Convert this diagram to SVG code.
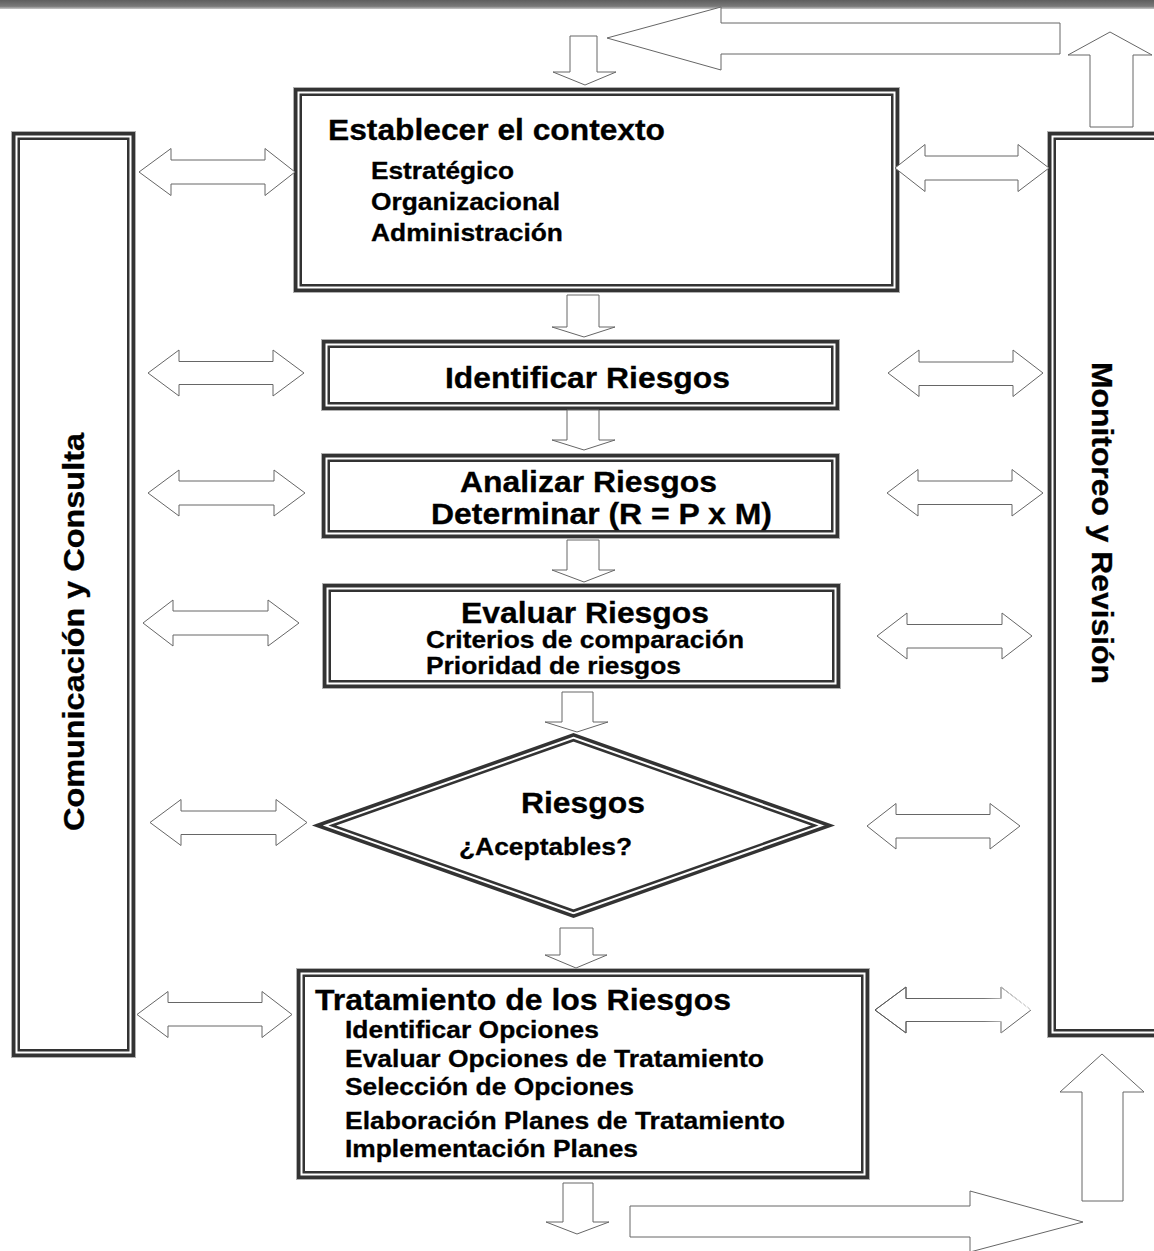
<svg xmlns="http://www.w3.org/2000/svg" width="1154" height="1251" viewBox="0 0 1154 1251">
  <defs>
    <linearGradient id="topBar" x1="0" y1="0" x2="0" y2="1">
      <stop offset="0" stop-color="#5e5e5e"/>
      <stop offset="0.7" stop-color="#7a7a7a"/>
      <stop offset="1" stop-color="#c8c8c8"/>
    </linearGradient>
    <!-- strokes that fade out toward one end -->
    <linearGradient id="fadeRight" x1="0" y1="0" x2="1" y2="0.3">
      <stop offset="0" stop-color="#555"/>
      <stop offset="0.8" stop-color="#777"/>
      <stop offset="1" stop-color="#eee"/>
    </linearGradient>
    <linearGradient id="fadeLeft" x1="0" y1="0" x2="1" y2="0">
      <stop offset="0" stop-color="#f2f2f2"/>
      <stop offset="0.25" stop-color="#888"/>
      <stop offset="0.85" stop-color="#666"/>
      <stop offset="1" stop-color="#aaa"/>
    </linearGradient>
    <linearGradient id="fadeBoth" x1="0" y1="0" x2="1" y2="0">
      <stop offset="0" stop-color="#f4f4f4"/>
      <stop offset="0.25" stop-color="#aaa"/>
      <stop offset="0.75" stop-color="#aaa"/>
      <stop offset="1" stop-color="#f4f4f4"/>
    </linearGradient>
    <linearGradient id="fadeGone" x1="0" y1="0" x2="1" y2="0">
      <stop offset="0" stop-color="#555"/>
      <stop offset="0.7" stop-color="#777"/>
      <stop offset="0.95" stop-color="#fff"/>
    </linearGradient>
  </defs>
  <style>
    text { font-family: "Liberation Sans", Arial, sans-serif; font-weight: bold; fill: #000; stroke: #000; stroke-width: 0.3; }
    .t29 { font-size: 30px; }
    .t24 { font-size: 24.5px; }
    .outer { fill: #fff; stroke: #333; stroke-width: 3.5; }
    .inner { fill: none; stroke: #333; stroke-width: 2.5; }
    .halo { fill: none; stroke: #b0b0b0; stroke-width: 1; }
    .arrow { fill: #fff; stroke: #666; stroke-width: 1; stroke-linejoin: miter; }
  </style>

  <rect width="1154" height="1251" fill="#fff"/>
  <rect x="0" y="0" width="1154" height="9" fill="url(#topBar)"/>

  <!-- side columns -->
  <g id="comunicacion">
    <rect class="halo" x="11.5" y="131.5" width="124" height="926"/>
    <rect class="outer" x="13.75" y="133.75" width="119.5" height="921.5"/>
    <rect class="inner" x="18.75" y="138.75" width="109.5" height="911.5"/>
    <text class="t29" transform="translate(84,831) rotate(-90)" textLength="398" lengthAdjust="spacingAndGlyphs">Comunicación y Consulta</text>
  </g>
  <g id="monitoreo">
    <rect class="halo" x="1047.5" y="131.5" width="160" height="906"/>
    <rect class="outer" x="1049.75" y="133.75" width="156" height="901.5"/>
    <rect class="inner" x="1054.75" y="138.75" width="146" height="891.5"/>
    <text class="t29" transform="translate(1092,362) rotate(90)" textLength="322" lengthAdjust="spacingAndGlyphs">Monitoreo y Revisión</text>
  </g>

  <!-- process steps -->
  <g id="contexto">
    <rect class="halo" x="293.5" y="87.5" width="606" height="205"/>
    <rect class="outer" x="295.75" y="89.75" width="601.5" height="200.5"/>
    <rect class="inner" x="300.75" y="94.75" width="591.5" height="190.5"/>
    <text class="t29" x="328" y="140" textLength="337" lengthAdjust="spacingAndGlyphs">Establecer el contexto</text>
    <text class="t24" x="371" y="179" textLength="143" lengthAdjust="spacingAndGlyphs">Estratégico</text>
    <text class="t24" x="371" y="210" textLength="189" lengthAdjust="spacingAndGlyphs">Organizacional</text>
    <text class="t24" x="371" y="241" textLength="192" lengthAdjust="spacingAndGlyphs">Administración</text>
  </g>
  <g id="identificar">
    <rect class="halo" x="321.5" y="339.5" width="518" height="71"/>
    <rect class="outer" x="323.75" y="341.75" width="513.5" height="66.5"/>
    <rect class="inner" x="328.75" y="346.75" width="503.5" height="56.5"/>
    <text class="t29" x="445" y="388" textLength="285" lengthAdjust="spacingAndGlyphs">Identificar Riesgos</text>
  </g>
  <g id="analizar">
    <rect class="halo" x="321.5" y="453.5" width="518" height="85"/>
    <rect class="outer" x="323.75" y="455.75" width="513.5" height="80.5"/>
    <rect class="inner" x="328.75" y="460.75" width="503.5" height="70.5"/>
    <text class="t29" x="460" y="492" textLength="257" lengthAdjust="spacingAndGlyphs">Analizar Riesgos</text>
    <text class="t29" x="431" y="524" textLength="341" lengthAdjust="spacingAndGlyphs">Determinar (R = P x M)</text>
  </g>
  <g id="evaluar">
    <rect class="halo" x="322.5" y="583.5" width="518" height="105"/>
    <rect class="outer" x="324.75" y="585.75" width="513.5" height="100.5"/>
    <rect class="inner" x="329.75" y="590.75" width="503.5" height="90.5"/>
    <text class="t29" x="461" y="623" textLength="248" lengthAdjust="spacingAndGlyphs">Evaluar Riesgos</text>
    <text class="t24" x="426" y="648" textLength="318" lengthAdjust="spacingAndGlyphs">Criterios de comparación</text>
    <text class="t24" x="426" y="674" textLength="255" lengthAdjust="spacingAndGlyphs">Prioridad de riesgos</text>
  </g>
  <g id="aceptables">
    <polygon class="outer" points="317.2,825.5 573.5,734.9 829.8,825.5 573.5,916.1"/>
    <polygon class="inner" points="332.2,825.5 573.5,740.2 814.8,825.5 573.5,910.8"/>
    <text class="t29" x="521" y="813" textLength="124" lengthAdjust="spacingAndGlyphs">Riesgos</text>
    <text class="t24" x="459" y="855" textLength="173" lengthAdjust="spacingAndGlyphs">¿Aceptables?</text>
  </g>
  <g id="tratamiento">
    <rect class="halo" x="296.5" y="968.5" width="573" height="211"/>
    <rect class="outer" x="298.75" y="970.75" width="568.5" height="206.5"/>
    <rect class="inner" x="303.75" y="975.75" width="558.5" height="196.5"/>
    <text class="t29" x="315" y="1010" textLength="416" lengthAdjust="spacingAndGlyphs">Tratamiento de los Riesgos</text>
    <text class="t24" x="345" y="1038" textLength="254" lengthAdjust="spacingAndGlyphs">Identificar Opciones</text>
    <text class="t24" x="345" y="1067" textLength="419" lengthAdjust="spacingAndGlyphs">Evaluar Opciones de Tratamiento</text>
    <text class="t24" x="345" y="1095" textLength="289" lengthAdjust="spacingAndGlyphs">Selección de Opciones</text>
    <text class="t24" x="345" y="1129" textLength="440" lengthAdjust="spacingAndGlyphs">Elaboración Planes de Tratamiento</text>
    <text class="t24" x="345" y="1157" textLength="293" lengthAdjust="spacingAndGlyphs">Implementación Planes</text>
  </g>

  <g id="connectors">
    <!-- feedback loop around the top and bottom -->
    <polygon class="arrow" points="607,38 721,7 721,23 1060,23 1060,54 721,54 721,70"/>
    <polygon class="arrow" points="1110,32 1152,55 1133,55 1133,127 1090,127 1090,55 1068,55"/>
    <polygon class="arrow" points="630,1206 970,1206 970,1191 1083,1222 970,1252 970,1237 630,1237"/>
    <polygon class="arrow" points="1102,1054 1144,1092 1123,1092 1123,1201 1082,1201 1082,1092 1060,1092"/>

    <!-- flow down the centre -->
    <polygon class="arrow" points="570,36 597,36 597,72 616,72 585,85 553,72 570,72"/>
    <polygon class="arrow" points="567,295 599,295 599,327 615,327 584,337 552,327 567,327"/>
    <polygon class="arrow" points="567,410 599,410 599,440 615,440 584,450 552,440 567,440"/>
    <polygon class="arrow" points="567,540 599,540 599,570 615,570 584,582 552,570 567,570"/>
    <polygon class="arrow" points="562,692 593,692 593,722 608,722 577,732 545,722 562,722"/>
    <polygon class="arrow" points="560,928 593,928 593,955 607,955 576,968 545,955 560,955"/>
    <polygon class="arrow" points="563,1183 593,1183 593,1222 609,1222 577,1234 546,1222 563,1222"/>

    <!-- links to Comunicación y Consulta -->
    <polygon class="arrow" points="139,172 171,148.5 171,160 265,160 265,148.5 295,172 265,195.5 265,184 171,184 171,195.5"/>
    <polygon class="arrow" stroke="url(#fadeRight)" points="148,373 179,350 179,361.5 273,361.5 273,350 304,373 273,396 273,384.5 179,384.5 179,396"/>
    <polygon class="arrow" points="148,493 179,470 179,481 274,481 274,470 305,493 274,516 274,505 179,505 179,516"/>
    <polygon class="arrow" points="143,623 173,600 173,611 268,611 268,600 299,623 268,646 268,635 173,635 173,646"/>
    <polygon class="arrow" stroke="#999" points="150,822.5 181,799.5 181,811 276,811 276,799.5 307,822.5 276,845.5 276,834.5 181,834.5 181,845.5"/>
    <polygon class="arrow" points="137,1014.5 168,991.5 168,1002.5 262,1002.5 262,991.5 292,1014.5 262,1037.5 262,1026 168,1026 168,1037.5"/>

    <!-- links to Monitoreo y Revisión -->
    <polygon class="arrow" points="895,168 925,144.5 925,156 1018,156 1018,144.5 1049,168 1018,191.5 1018,180 925,180 925,191.5"/>
    <polygon class="arrow" stroke="url(#fadeLeft)" points="888,373 919,350 919,362 1013,362 1013,350 1043,373 1013,396.5 1013,385.5 919,385.5 919,396.5"/>
    <polygon class="arrow" stroke="url(#fadeRight)" points="887,493 918,469.5 918,481 1012,481 1012,469.5 1043,493 1012,516 1012,504.5 918,504.5 918,516"/>
    <polygon class="arrow" stroke="url(#fadeRight)" points="877,636 907,613 907,624.5 1002,624.5 1002,613 1032,636 1002,659 1002,648 907,648 907,659"/>
    <polygon class="arrow" stroke="url(#fadeBoth)" points="867,826 896,803.5 896,814.5 990,814.5 990,803.5 1020,826 990,849 990,838 896,838 896,849"/>
    <polygon class="arrow" stroke="none" points="875,1010 906,987 906,998.5 1001,998.5 1001,987 1031,1010 1001,1033 1001,1021.5 906,1021.5 906,1033"/>
    <path fill="none" stroke="url(#fadeGone)" stroke-width="1" d="M1001,1033 V1021.5 H906 V1033 L875,1010 L906,987 V998.5 H1001 V987 L1031,1010"/>
  </g>
</svg>
